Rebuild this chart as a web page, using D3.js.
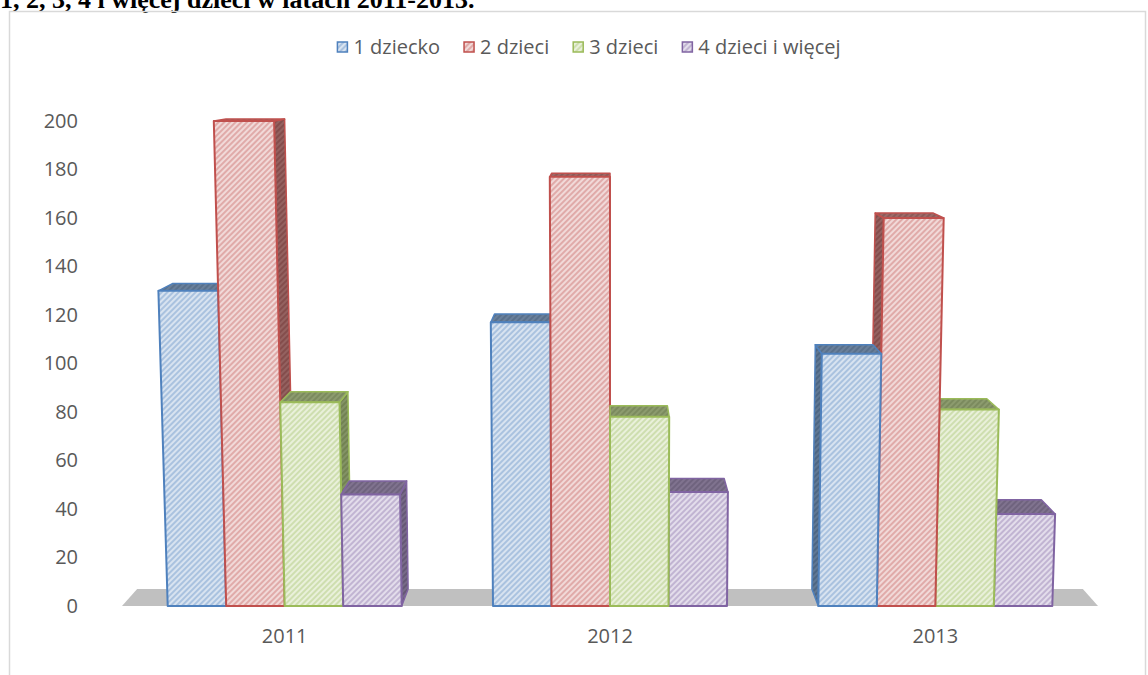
<!doctype html>
<html>
<head>
<meta charset="utf-8">
<title>dzieci 2011-2013</title>
<script src="https://d3js.org/d3.v7.min.js"></script>
<style>
body { margin: 0; background: #fff; }
svg text { font-family: "Open Sans", sans-serif; fill: #595959; }
.title { font-family: "Liberation Serif", "Times New Roman", serif; font-weight: bold; fill: #000; }
</style>
</head>
<body>
<svg width="1148" height="675"></svg>
<script>
var years = ["2011", "2012", "2013"];
var series = ["1 dziecko", "2 dzieci", "3 dzieci", "4 dzieci i więcej"];
var jedno = [130, 117, 104];
var dwoje = [200, 177, 160];
var troje = [84, 78, 81];
var czworo = [46, 47, 38];
var yTicks = [0, 20, 40, 60, 80, 100, 120, 140, 160, 180, 200];
var colours = ["#4f81bd", "#c0504d", "#9bbb59", "#8064a2"];

var values = [jedno, dwoje, troje, czworo];

var svg = d3.select("svg");
var defs = svg.append("defs");

// title, cut at the top of the page like in the document
svg.append("text").attr("class", "title")
    .attr("x", 0).attr("y", 8)
    .style("font-size", "26px")
    .text("1, 2, 3, 4 i więcej dzieci w latach 2011-2013.");

// chart frame
svg.append("rect")
    .attr("x", 9.5).attr("y", 11.5)
    .attr("width", 1136).attr("height", 700)
    .attr("fill", "none").attr("stroke", "#d9d9d9").attr("stroke-width", 1.5);

var x = d3.scaleBand().domain(years).range([122, 1098]).padding(0);
var groupW = 234;
var x1 = d3.scaleBand().domain(series).range([0, groupW]).padding(0);
var y = d3.scaleLinear().domain([0, 200]).range([606, 121]);

// simple perspective: vertical edges lean out, depth goes to a point above
var vp = [610, 60], depth = 0.031, lean = 15000;
function front(xb, yv) {
  var h = y(0) - yv;
  return [vp[0] + (xb - vp[0]) * (1 + h / lean), yv];
}
function back(p) {
  return [p[0] + depth * (vp[0] - p[0]), p[1] + depth * (vp[1] - p[1])];
}
function mix(a, b, t) { return d3.interpolateRgb(a, b)(t); }

// hatch patterns
function hatch(id, bg, line) {
  var p = defs.append("pattern").attr("id", id)
      .attr("patternUnits", "userSpaceOnUse")
      .attr("width", 4).attr("height", 4)
      .attr("patternTransform", "rotate(45)");
  p.append("rect").attr("width", 4).attr("height", 4).attr("fill", bg);
  p.append("line").attr("x1", 1).attr("y1", 0).attr("x2", 1).attr("y2", 4)
      .attr("stroke", line).attr("stroke-width", 1.6);
}
colours.forEach(function(c, j) {
  hatch("f" + j, mix(c, "#fff", 0.78), mix(c, "#fff", 0.45));
  hatch("t" + j, mix(c, "#808080", 0.55), mix(c, "#5a5a5a", 0.55));
  hatch("s" + j, mix(c, "#707070", 0.55), mix(c, "#404040", 0.5));
});

// y axis labels
var yAxis = svg.append("g")
    .attr("transform", "translate(78,0)")
    .call(d3.axisLeft(y).tickValues(yTicks).tickSize(0).tickPadding(0));
yAxis.select(".domain").remove();
yAxis.selectAll("text").style("font-size", "20px").attr("fill", "#595959")
    .attr("font-family", null);

// x axis labels
var xAxis = svg.append("g")
    .attr("transform", "translate(0,629)")
    .call(d3.axisBottom(x).tickSize(0).tickPadding(0));
xAxis.select(".domain").remove();
xAxis.selectAll("text").style("font-size", "20px").attr("fill", "#595959")
    .attr("font-family", null);

// floor
var f0 = [x.range()[0], y(0)], f1 = [x.range()[1], y(0)];
svg.append("polygon")
    .attr("points", [f0, f1, back(f1), back(f0)].map(function(p) { return p.join(","); }).join(" "))
    .attr("fill", "#c0c0c0");

// bars
var bars = [];
years.forEach(function(yr, i) {
  series.forEach(function(s, j) {
    var xl = x(yr) + (x.bandwidth() - groupW) / 2 + x1(s);
    bars.push({ i: i, j: j, xl: xl, xr: xl + x1.bandwidth(), v: values[j][i] });
  });
});
bars.sort(function(a, b) {
  return Math.abs((b.xl + b.xr) / 2 - vp[0]) - Math.abs((a.xl + a.xr) / 2 - vp[0]);
});

function pts(arr) { return arr.map(function(p) { return p[0].toFixed(1) + "," + p[1].toFixed(1); }).join(" "); }

var g = svg.append("g");
bars.forEach(function(b) {
  var c = colours[b.j];
  var BL = front(b.xl, y(0)), BR = front(b.xr, y(0));
  var TL = front(b.xl, y(b.v)), TR = front(b.xr, y(b.v));
  var bar = g.append("g");
  if (TR[0] < vp[0]) {
    bar.append("polygon").attr("points", pts([BR, TR, back(TR), back(BR)]))
        .attr("fill", "url(#s" + b.j + ")").attr("stroke", c).attr("stroke-width", 1.5)
        .attr("stroke-linejoin", "round");
  }
  if (TL[0] > vp[0]) {
    bar.append("polygon").attr("points", pts([BL, TL, back(TL), back(BL)]))
        .attr("fill", "url(#s" + b.j + ")").attr("stroke", c).attr("stroke-width", 1.5)
        .attr("stroke-linejoin", "round");
  }
  bar.append("polygon").attr("points", pts([TL, TR, back(TR), back(TL)]))
      .attr("fill", "url(#t" + b.j + ")").attr("stroke", c).attr("stroke-width", 1.5)
      .attr("stroke-linejoin", "round");
  bar.append("polygon").attr("points", pts([BL, BR, TR, TL]))
      .attr("fill", "url(#f" + b.j + ")").attr("stroke", c).attr("stroke-width", 2)
      .attr("stroke-linejoin", "round");
});

// legend
var legend = svg.append("g");
var lx = 0;
var items = legend.selectAll("g").data(series).enter().append("g");
items.append("rect")
    .attr("x", 0).attr("y", -5).attr("width", 10).attr("height", 10)
    .attr("fill", function(d, j) { return "url(#f" + j + ")"; })
    .attr("stroke", function(d, j) { return colours[j]; }).attr("stroke-width", 1.5);
items.append("text")
    .attr("x", 16).attr("dy", "0.35em")
    .style("font-size", "20px")
    .text(function(d) { return d; });
items.each(function() {
  var w = this.querySelector("text").getComputedTextLength();
  d3.select(this).attr("transform", "translate(" + lx + ",0)");
  lx += 16 + w + 24;
});
lx -= 24;
legend.attr("transform", "translate(" + (589 - lx / 2) + ",47)");
</script>
</body>
</html>
